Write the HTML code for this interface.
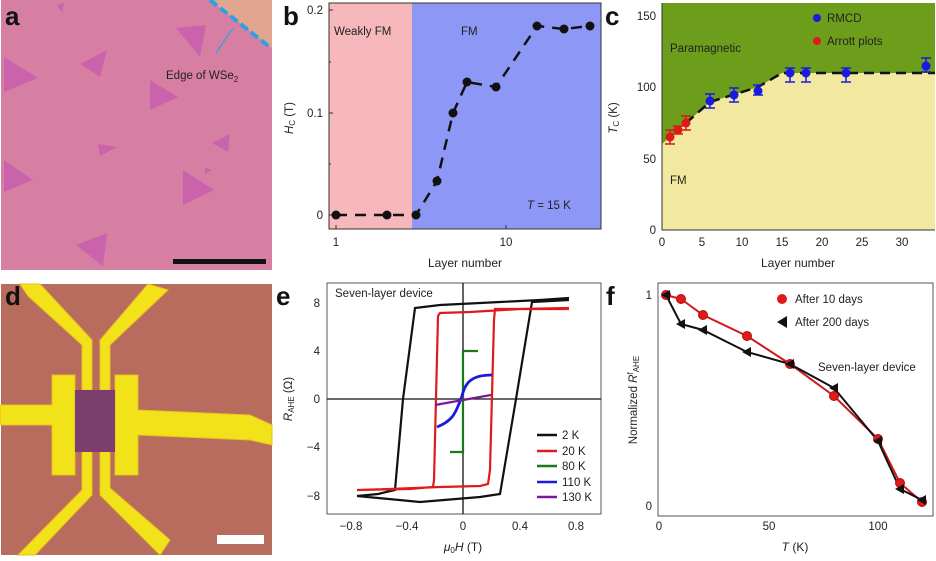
<!DOCTYPE html>
<html><head><meta charset="utf-8"><style>
body{margin:0;background:#fff}
svg{display:block;font-family:"Liberation Sans",sans-serif}
.t{font-size:11.5px;fill:#222}
.L{font-size:26px;font-weight:bold;fill:#111}
</style></head><body>
<svg width="936" height="561" viewBox="0 0 936 561" xmlns="http://www.w3.org/2000/svg">
<!-- panel a -->
<rect x="1" y="0" width="271" height="270" fill="#d67fa3"/>
<polygon points="210,0 272,0 272,48" fill="#e2a590"/>
<line x1="210" y1="0" x2="271" y2="48" stroke="#2aa3e0" stroke-width="4" stroke-dasharray="9,4"/>
<g fill="#c75ab0" opacity="0.75">
<polygon points="4,57 38,78 4,92"/><polygon points="80,64 107,50 100,77"/><polygon points="150,80 178,97 150,110"/>
<polygon points="176,28 206,25 200,57"/><polygon points="98,144 117,147 100,156"/><polygon points="212,143 230,134 228,152"/>
<polygon points="4,160 33,180 4,192"/><polygon points="183,170 214,190 183,205"/><polygon points="205,168 212,170 205,174"/>
<polygon points="76,245 107,233 103,266"/><polygon points="57,5 64,3 62,13"/>
</g>
<text x="5" y="25" class="L">a</text>
<text x="166" y="79" class="t" font-size="12">Edge of WSe<tspan font-size="8" dy="3">2</tspan></text>
<line x1="216" y1="53" x2="233" y2="28" stroke="#2aa3e0" stroke-width="1.2"/>
<rect x="173" y="259" width="93" height="5" fill="#111"/>
<!-- panel b -->
<rect x="329" y="3" width="83" height="226" fill="#f7b8bb"/>
<rect x="412" y="3" width="189" height="226" fill="#8d98f6"/>
<rect x="329" y="3" width="272" height="226" fill="none" stroke="#333" stroke-width="1"/>
<text x="283" y="25" class="L">b</text>
<g class="t" text-anchor="end"><text x="323" y="14">0.2</text><text x="323" y="117">0.1</text><text x="323" y="219">0</text></g>
<g stroke="#333"><line x1="329" y1="10" x2="333" y2="10"/><line x1="329" y1="62" x2="331" y2="62"/><line x1="329" y1="113" x2="333" y2="113"/><line x1="329" y1="164" x2="331" y2="164"/><line x1="329" y1="215" x2="333" y2="215"/>
<line x1="336" y1="229" x2="336" y2="225"/><line x1="506" y1="229" x2="506" y2="225"/></g>
<g class="t" text-anchor="middle"><text x="336" y="246">1</text><text x="506" y="246">10</text><text x="465" y="267" font-size="12">Layer number</text></g>
<text x="293" y="118" class="t" transform="rotate(-90 293 118)" text-anchor="middle" font-size="12"><tspan font-style="italic">H</tspan><tspan font-size="8" dy="2">C</tspan><tspan dy="-2"> (T)</tspan></text>
<text x="334" y="35" class="t" font-size="12">Weakly FM</text><text x="461" y="35" class="t" font-size="12">FM</text>
<text x="527" y="209" class="t" font-size="12"><tspan font-style="italic">T</tspan> = 15 K</text>
<polyline points="336,215 387,215 416,215 437,181 453,113 467,82 496,87 537,26 564,29 590,26" fill="none" stroke="#111" stroke-width="2.5" stroke-dasharray="11,8"/>
<g fill="#111"><circle cx="336" cy="215" r="4.5"/><circle cx="387" cy="215" r="4.5"/><circle cx="416" cy="215" r="4.5"/><circle cx="437" cy="181" r="4.5"/><circle cx="453" cy="113" r="4.5"/><circle cx="467" cy="82" r="4.5"/><circle cx="496" cy="87" r="4.5"/><circle cx="537" cy="26" r="4.5"/><circle cx="564" cy="29" r="4.5"/><circle cx="590" cy="26" r="4.5"/></g>
<!-- panel c -->
<rect x="662" y="3" width="273" height="227" fill="#6c9e1c"/>
<polygon points="662,144 686,123 710,102 758,87 782,73 935,73 935,230 662,230" fill="#f2e8a0"/>
<line x1="662" y1="3" x2="662" y2="230" stroke="#333"/><line x1="662" y1="230" x2="935" y2="230" stroke="#333"/>
<text x="605" y="25" class="L">c</text>
<g class="t" text-anchor="end"><text x="656" y="20">150</text><text x="656" y="91">100</text><text x="656" y="163">50</text><text x="656" y="234">0</text></g>
<g class="t" text-anchor="middle"><text x="662" y="246">0</text><text x="702" y="246">5</text><text x="742" y="246">10</text><text x="782" y="246">15</text><text x="822" y="246">20</text><text x="862" y="246">25</text><text x="902" y="246">30</text><text x="798" y="267" font-size="12">Layer number</text></g>
<text x="617" y="118" class="t" transform="rotate(-90 617 118)" text-anchor="middle" font-size="12"><tspan font-style="italic">T</tspan><tspan font-size="8" dy="2">C</tspan><tspan dy="-2"> (K)</tspan></text>
<polyline points="686,123 710,102 758,87 782,73 935,73" fill="none" stroke="#111" stroke-width="2.5" stroke-dasharray="10,6"/>
<text x="670" y="52" class="t" font-size="12.5">Paramagnetic</text><text x="670" y="184" class="t" font-size="12.5">FM</text>
<circle cx="817" cy="18" r="4" fill="#1a1ae0"/><text x="827" y="22" class="t" font-size="12.5">RMCD</text>
<circle cx="817" cy="41" r="4" fill="#e01a1a"/><text x="827" y="45" class="t" font-size="12.5">Arrott plots</text>
<g stroke="#1a1ae0" stroke-width="1.5">
<path d="M710,94v14M705,94h10M705,108h10M734,88v14M729,88h10M729,102h10M758,85v10M753,85h10M753,95h10M790,68v14M785,68h10M785,82h10M806,68v14M801,68h10M801,82h10M846,68v14M841,68h10M841,82h10M926,58v14M921,58h10M921,72h10"/></g>
<g fill="#1a1ae0"><circle cx="710" cy="101" r="4.5"/><circle cx="734" cy="95" r="4.5"/><circle cx="758" cy="91" r="4.5"/><circle cx="790" cy="73" r="4.5"/><circle cx="806" cy="73" r="4.5"/><circle cx="846" cy="73" r="4.5"/><circle cx="926" cy="66" r="4.5"/></g>
<g stroke="#d01a1a" stroke-width="1.5"><path d="M670,130v14M665,130h10M665,144h10M678,126v8M673,126h10M673,134h10M686,116v14M681,116h10M681,130h10"/></g>
<g fill="#e01a1a"><circle cx="670" cy="137" r="4.5"/><circle cx="678" cy="130" r="4.5"/><circle cx="686" cy="123" r="4.5"/></g>
<!-- panel d -->
<rect x="1" y="284" width="271" height="271" fill="#b86c5e"/>
<g fill="#f2e21a" stroke="#e8c020" stroke-width="1">
<polygon points="20,284 40,284 92,340 92,390 82,390 82,345 28,296"/>
<polygon points="148,284 168,290 110,345 110,390 100,390 100,340"/>
<polygon points="82,450 92,450 92,495 35,555 18,555 82,490"/>
<polygon points="100,450 110,450 110,488 170,540 160,555 100,495"/>
<polygon points="0,405 52,405 52,375 75,375 75,475 52,475 52,425 0,425"/>
<polygon points="115,375 138,375 138,410 250,415 272,425 272,445 250,440 138,435 138,475 115,475"/>
</g>
<rect x="75" y="390" width="40" height="62" fill="#7c3e6c"/>
<text x="5" y="305" class="L">d</text>
<rect x="217" y="535" width="47" height="9" fill="#fff"/>
<!-- panel e -->
<rect x="327" y="283" width="274" height="231" fill="none" stroke="#555"/>
<line x1="463" y1="283" x2="463" y2="514" stroke="#111" stroke-width="1.3"/><line x1="327" y1="399" x2="601" y2="399" stroke="#111" stroke-width="1.3"/>
<text x="276" y="305" class="L">e</text>
<text x="335" y="297" class="t" font-size="12">Seven-layer device</text>
<g class="t" text-anchor="end"><text x="320" y="307">8</text><text x="320" y="355">4</text><text x="320" y="403">0</text><text x="320" y="451">−4</text><text x="320" y="500">−8</text></g>
<g class="t" text-anchor="middle"><text x="351" y="530">−0.8</text><text x="407" y="530">−0.4</text><text x="463" y="530">0</text><text x="520" y="530">0.4</text><text x="576" y="530">0.8</text><text x="463" y="551" font-size="12"><tspan font-style="italic">μ</tspan><tspan font-size="8" dy="2">0</tspan><tspan dy="-2" font-style="italic">H</tspan> (T)</text></g>
<text x="292" y="399" class="t" transform="rotate(-90 292 399)" text-anchor="middle" font-size="12"><tspan font-style="italic">R</tspan><tspan font-size="8" dy="2">AHE</tspan><tspan dy="-2"> (Ω)</tspan></text>
<g fill="none" stroke-width="2.2">
<polyline stroke="#111" points="569,298 540,300 500,302 440,305 415,308 403,399 395,490 378,494 357,496 420,502 480,497 500,494 516,399 532,302 569,300"/>
<polyline stroke="#e01a1a" points="569,308 520,309 470,312 440,313 438,316 434,480 433,487 410,489 357,490 390,489 440,487 480,486 488,484 490,470 494,320 495,309 569,309"/>
<polyline stroke="#1a7a1a" points="478,351 463,351 463,452 450,452"/>
<path stroke="#1a1ae0" stroke-width="2.8" d="M437,427 C455,420 456,410 461,399 C465,385 468,375 492,375"/>
<line stroke="#7a1a9a" x1="435" y1="405" x2="491" y2="395"/>
</g>
<g class="t" font-size="12">
<line x1="537" y1="435" x2="557" y2="435" stroke="#111" stroke-width="2.5"/><text x="562" y="439">2 K</text>
<line x1="537" y1="451" x2="557" y2="451" stroke="#e01a1a" stroke-width="2.5"/><text x="562" y="455">20 K</text>
<line x1="537" y1="466" x2="557" y2="466" stroke="#1a7a1a" stroke-width="2.5"/><text x="562" y="470">80 K</text>
<line x1="537" y1="482" x2="557" y2="482" stroke="#1a1ae0" stroke-width="2.5"/><text x="562" y="486">110 K</text>
<line x1="537" y1="497" x2="557" y2="497" stroke="#7a1a9a" stroke-width="2.5"/><text x="562" y="501">130 K</text>
</g>
<!-- panel f -->
<rect x="658" y="283" width="275" height="233" fill="none" stroke="#555"/>
<text x="606" y="305" class="L">f</text>
<g class="t" text-anchor="end"><text x="652" y="299">1</text><text x="652" y="510">0</text></g>
<g class="t" text-anchor="middle"><text x="659" y="530">0</text><text x="769" y="530">50</text><text x="878" y="530">100</text><text x="795" y="551" font-size="12"><tspan font-style="italic">T</tspan> (K)</text></g>
<text x="637" y="400" class="t" transform="rotate(-90 637 400)" text-anchor="middle" font-size="12">Normalized <tspan font-style="italic">R</tspan><tspan font-size="8" dy="-4">f</tspan><tspan font-size="8" dy="6">AHE</tspan></text>
<polyline fill="none" stroke="#d01a1a" stroke-width="2" points="666,295 681,299 703,315 747,336 790,364 834,396 878,439 900,483 922,502"/>
<polyline fill="none" stroke="#111" stroke-width="2" points="666,295 681,324 703,330 747,352 790,364 834,388 878,441 900,489 922,500"/>
<g fill="#e01a1a" stroke="#b01010"><circle cx="666" cy="295" r="4.5"/><circle cx="681" cy="299" r="4.5"/><circle cx="703" cy="315" r="4.5"/><circle cx="747" cy="336" r="4.5"/><circle cx="790" cy="364" r="4.5"/><circle cx="834" cy="396" r="4.5"/><circle cx="878" cy="439" r="4.5"/><circle cx="900" cy="483" r="4.5"/><circle cx="922" cy="502" r="4.5"/></g>
<g fill="#111"><polygon points="661,295 670,290 670,300"/><polygon points="676,324 685,319 685,329"/><polygon points="698,330 707,325 707,335"/><polygon points="742,352 751,347 751,357"/><polygon points="785,364 794,359 794,369"/><polygon points="829,388 838,383 838,393"/><polygon points="873,441 882,436 882,446"/><polygon points="895,489 904,484 904,494"/><polygon points="917,500 926,495 926,505"/></g>
<circle cx="782" cy="299" r="5" fill="#e01a1a"/><text x="795" y="303" class="t" font-size="12.5">After 10 days</text>
<polygon points="777,322 787,316 787,328" fill="#111"/><text x="795" y="326" class="t" font-size="12.5">After 200 days</text>
<text x="818" y="371" class="t" font-size="12.5">Seven-layer device</text>
</svg>
</body></html>
